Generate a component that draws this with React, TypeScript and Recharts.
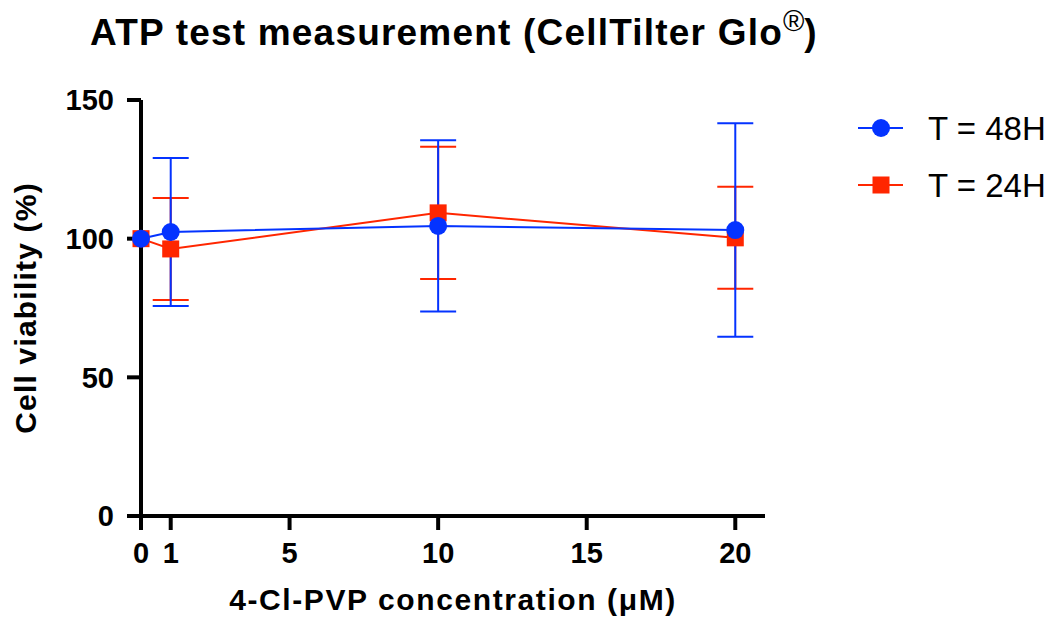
import { ErrorBar, Label, Line, LineChart, XAxis, YAxis } from 'recharts';

document.body.style.margin = '0';

const concentrations = [0, 1, 10, 20];
const viability48 = [100, 102.4, 104.6, 103.1];
const error48 = [0, 26.7, 30.9, 38.5];
const viability24 = [100, 96.3, 109.3, 100.3];
const error24 = [0, 18.4, 23.8, 18.4];
const xTicks = [0, 1, 5, 10, 15, 20];
const yTicks = [0, 50, 100, 150];

const BLUE = '#0433FF';
const RED = '#FF2600';
const FONT = '"Liberation Sans", Arial, sans-serif';

const data48 = concentrations.map((x, i) => ({ x, y: viability48[i], err: error48[i] }));
const data24 = concentrations.map((x, i) => ({ x, y: viability24[i], err: error24[i] }));

const legendItems = [
  { label: 'T = 48H', color: BLUE, shape: 'circle' },
  { label: 'T = 24H', color: RED, shape: 'square' },
];

function SquareDot(props: any) {
  const { cx, cy } = props;
  if (cx == null || cy == null) return null;
  return <rect x={cx - 8.5} y={cy - 8.5} width={17} height={17} fill={RED} />;
}

function LegendBox() {
  return (
    <svg width={200} height={120}>
      {legendItems.map((it, i) => {
        const cy = 18 + i * 57;
        return (
          <g key={it.label}>
            <line x1={3} x2={48} y1={cy} y2={cy} stroke={it.color} strokeWidth={2} />
            {it.shape === 'circle' ? (
              <circle cx={26} cy={cy} r={9} fill={it.color} />
            ) : (
              <rect x={17.5} y={cy - 8.5} width={17} height={17} fill={it.color} />
            )}
            <text x={73} y={cy + 12} fontSize={33} fontFamily={FONT} fill="#000">
              {it.label}
            </text>
          </g>
        );
      })}
    </svg>
  );
}

const tickStyle = { fontSize: 29, fontWeight: 'bold', fontFamily: FONT, fill: '#000' };

export default function App() {
  return (
    <div style={{ position: 'relative', width: 1053, height: 622, background: '#fff' }}>
      <svg width={1053} height={70} style={{ position: 'absolute', left: 0, top: 0 }}>
        <text x={90} y={45} fontSize={37} fontWeight="bold" letterSpacing={1.2} fontFamily={FONT} fill="#000">
          ATP test measurement (CellTilter Glo
          <tspan fontWeight="normal" fontSize={29} dy={-14} letterSpacing={0}>®</tspan>
          <tspan dy={14}>)</tspan>
        </text>
      </svg>
      <LineChart
        width={1053}
        height={622}
        margin={{ top: 100, right: 288, bottom: 0, left: 0 }}
        style={{ position: 'absolute', left: 0, top: 0 }}
      >
        <XAxis
          type="number"
          dataKey="x"
          domain={[0, 21]}
          ticks={xTicks}
          allowDuplicatedCategory={false}
          height={106}
          stroke="#000"
          strokeWidth={4}
          tickSize={14}
          tickMargin={12}
          tick={tickStyle}
        >
          <Label
            value="4-Cl-PVP concentration (μM)"
            position="insideBottom"
            offset={12}
            style={{ fontSize: 30, letterSpacing: 1.6, fontWeight: 'bold', fontFamily: FONT, fill: '#000' }}
          />
        </XAxis>
        <YAxis
          type="number"
          domain={[0, 150]}
          ticks={yTicks}
          width={141}
          stroke="#000"
          strokeWidth={4}
          tickSize={14}
          tickMargin={13}
          tick={tickStyle}
        >
          <Label
            value="Cell viability (%)"
            angle={-90}
            position="insideLeft"
            offset={25}
            style={{ textAnchor: 'middle', fontSize: 30, letterSpacing: 1.2, fontWeight: 'bold', fontFamily: FONT, fill: '#000' }}
          />
        </YAxis>
        <Line
          data={data24}
          dataKey="y"
          name="T = 24H"
          stroke={RED}
          strokeWidth={2}
          dot={<SquareDot />}
          activeDot={false}
          isAnimationActive={false}
        >
          <ErrorBar dataKey="err" direction="y" width={18} stroke={RED} strokeWidth={2} />
        </Line>
        <Line
          data={data48}
          dataKey="y"
          name="T = 48H"
          stroke={BLUE}
          strokeWidth={2}
          dot={{ r: 9, fill: BLUE, stroke: 'none' }}
          activeDot={false}
          isAnimationActive={false}
        >
          <ErrorBar dataKey="err" direction="y" width={18} stroke={BLUE} strokeWidth={2} />
        </Line>
      </LineChart>
      <div style={{ position: 'absolute', left: 855, top: 110 }}>
        <LegendBox />
      </div>
    </div>
  );
}
